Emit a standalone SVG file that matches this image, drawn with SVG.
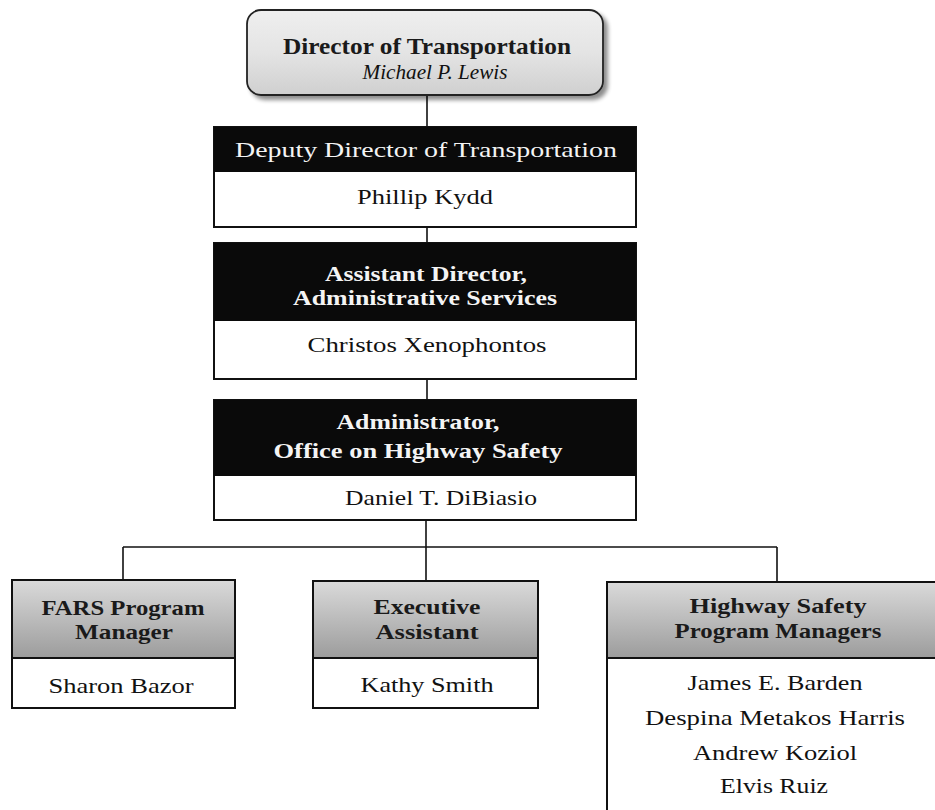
<svg xmlns="http://www.w3.org/2000/svg" width="935" height="810" viewBox="0 0 935 810">
<defs>
<linearGradient id="gTop" x1="0" y1="0" x2="0" y2="1">
<stop offset="0" stop-color="#efefef"/>
<stop offset="0.5" stop-color="#e4e4e4"/>
<stop offset="1" stop-color="#cfcfcf"/>
</linearGradient>
<linearGradient id="gHead" x1="0" y1="0" x2="0" y2="1">
<stop offset="0" stop-color="#dadada"/>
<stop offset="1" stop-color="#9c9c9c"/>
</linearGradient>
<filter id="shadow" x="-10%" y="-20%" width="130%" height="150%">
<feGaussianBlur in="SourceAlpha" stdDeviation="2"/>
<feOffset dx="4" dy="4" result="b"/>
<feComponentTransfer><feFuncA type="linear" slope="0.45"/></feComponentTransfer>
<feMerge><feMergeNode/><feMergeNode in="SourceGraphic"/></feMerge>
</filter>
</defs>
<style>
text{font-family:"Liberation Serif","DejaVu Serif",serif;text-anchor:middle}
.box{fill:#fff;stroke:#111;stroke-width:2}
.black{fill:#0a0a0a}
.gray{fill:url(#gHead);stroke:#111;stroke-width:2}
.wh{fill:#f4f4f4;font-size:21px;font-weight:bold}
.hd{fill:#1a1a1a;font-size:22px;font-weight:bold}
.nm{fill:#111;font-size:22px}
.conn line{stroke:#111;stroke-width:1.6}
</style>
<rect width="935" height="810" fill="#fff"/>
<g class="conn">
<line x1="427" y1="95" x2="427" y2="127"/>
<line x1="427" y1="227" x2="427" y2="243"/>
<line x1="427" y1="379" x2="427" y2="400"/>
<line x1="426" y1="520" x2="426" y2="581"/>
<line x1="123" y1="547" x2="777" y2="547"/>
<line x1="123" y1="547" x2="123" y2="580"/>
<line x1="777" y1="547" x2="777" y2="582"/>
</g>
<g id="director">
<rect x="247" y="10" width="356" height="85" rx="14" fill="url(#gTop)" stroke="#222" stroke-width="1.8" filter="url(#shadow)"/>
<text x="427" y="54" class="hd" style="font-size:23px" textLength="288" lengthAdjust="spacingAndGlyphs">Director of Transportation</text>
<text x="435" y="79" class="nm" font-style="italic" textLength="145" lengthAdjust="spacingAndGlyphs">Michael P. Lewis</text>
</g>
<g id="deputy">
<rect x="214" y="127" width="422" height="100" class="box"/>
<rect x="214" y="127" width="422" height="45" class="black"/>
<text x="426" y="157" class="wh" style="font-weight:normal;font-size:22px" textLength="382" lengthAdjust="spacingAndGlyphs">Deputy Director of Transportation</text>
<text x="425" y="204" class="nm" textLength="136" lengthAdjust="spacingAndGlyphs">Phillip Kydd</text>
</g>
<g id="assistant">
<rect x="214" y="243" width="422" height="136" class="box"/>
<rect x="214" y="243" width="422" height="78" class="black"/>
<text x="426" y="281" class="wh" style="font-size:20px" textLength="202" lengthAdjust="spacingAndGlyphs">Assistant Director,</text>
<text x="425" y="305" class="wh" style="font-size:20px" textLength="264" lengthAdjust="spacingAndGlyphs">Administrative Services</text>
<text x="427" y="352" class="nm" textLength="239" lengthAdjust="spacingAndGlyphs">Christos Xenophontos</text>
</g>
<g id="administrator">
<rect x="214" y="400" width="422" height="120" class="box"/>
<rect x="214" y="400" width="422" height="76" class="black"/>
<text x="418" y="429" class="wh" style="font-size:22px" textLength="163" lengthAdjust="spacingAndGlyphs">Administrator,</text>
<text x="418" y="458" class="wh" style="font-size:22px" textLength="289" lengthAdjust="spacingAndGlyphs">Office on Highway Safety</text>
<text x="441" y="505" class="nm" textLength="192" lengthAdjust="spacingAndGlyphs">Daniel T. DiBiasio</text>
</g>
<g id="fars">
<rect x="12" y="580" width="223" height="128" class="box"/>
<rect x="12" y="580" width="223" height="78" class="gray"/>
<text x="123" y="615" class="hd" textLength="163" lengthAdjust="spacingAndGlyphs">FARS Program</text>
<text x="124" y="639" class="hd" textLength="98" lengthAdjust="spacingAndGlyphs">Manager</text>
<text x="121" y="693" class="nm" textLength="145" lengthAdjust="spacingAndGlyphs">Sharon Bazor</text>
</g>
<g id="executive">
<rect x="313" y="581" width="225" height="127" class="box"/>
<rect x="313" y="581" width="225" height="77" class="gray"/>
<text x="427" y="614" class="hd" textLength="107" lengthAdjust="spacingAndGlyphs">Executive</text>
<text x="427" y="639" class="hd" textLength="103" lengthAdjust="spacingAndGlyphs">Assistant</text>
<text x="427" y="692" class="nm" textLength="133" lengthAdjust="spacingAndGlyphs">Kathy Smith</text>
</g>
<g id="highway">
<rect x="607" y="582" width="340" height="250" class="box"/>
<rect x="607" y="582" width="340" height="76" class="gray"/>
<text x="778" y="613" class="hd" textLength="177" lengthAdjust="spacingAndGlyphs">Highway Safety</text>
<text x="778" y="638" class="hd" textLength="207" lengthAdjust="spacingAndGlyphs">Program Managers</text>
<text x="775" y="690" class="nm" textLength="175" lengthAdjust="spacingAndGlyphs">James E. Barden</text>
<text x="775" y="725" class="nm" textLength="260" lengthAdjust="spacingAndGlyphs">Despina Metakos Harris</text>
<text x="775" y="760" class="nm" textLength="164" lengthAdjust="spacingAndGlyphs">Andrew Koziol</text>
<text x="774" y="793" class="nm" textLength="108" lengthAdjust="spacingAndGlyphs">Elvis Ruiz</text>
</g>
</svg>
